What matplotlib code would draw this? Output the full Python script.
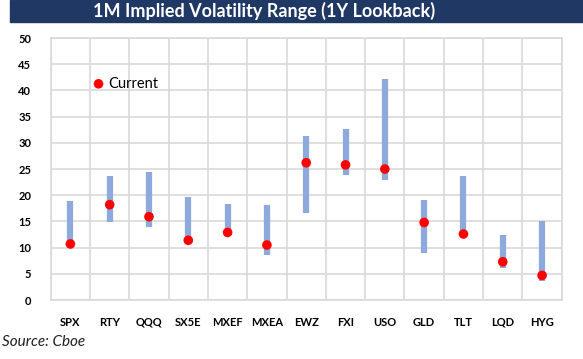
import matplotlib.pyplot as plt
from matplotlib.patches import Rectangle

# data
tickers = ['SPX', 'RTY', 'QQQ', 'SX5E', 'MXEF', 'MXEA', 'EWZ', 'FXI',
           'USO', 'GLD', 'TLT', 'LQD', 'HYG']
low = [10.5, 14.8, 14.0, 11.2, 12.6, 8.6, 16.7, 23.9, 23.0, 9.0, 12.3, 6.2, 3.7]
high = [18.9, 23.7, 24.4, 19.7, 18.4, 18.2, 31.4, 32.6, 42.2, 19.0, 23.7, 12.5, 15.1]
current = [10.7, 18.2, 15.9, 11.4, 12.9, 10.5, 26.2, 25.8, 25.0, 14.8, 12.6, 7.3, 4.7]

plt.rcParams['font.family'] = ['Lato', 'DejaVu Sans']

fig = plt.figure(figsize=(5.83, 3.59), dpi=100)
ax = fig.add_axes([0.087, 0.1643, 0.8765, 0.7297])

x = list(range(len(tickers)))
ax.vlines(x, low, high, color='#8EA9DB', linewidth=4.5, zorder=2)
ax.scatter(x, current, s=48, color='#FF0000', zorder=3, label='Current',
           edgecolors='none')

ax.set_xlim(-0.5, len(tickers) - 0.5)
ax.set_ylim(0, 50)
ax.set_yticks(range(0, 51, 5))
ax.set_xticks(x)
ax.set_xticklabels(tickers)
ax.set_xticks([i + 0.5 for i in range(-1, len(tickers))], minor=True)
ax.grid(axis='y', which='major', color='#D9D9D9', linewidth=1.2)
ax.grid(axis='x', which='minor', color='#D9D9D9', linewidth=1.2)
ax.set_axisbelow(True)
for s in ax.spines.values():
    s.set_color('#D9D9D9')
    s.set_linewidth(1.2)
ax.tick_params(which='both', length=0)
ax.tick_params(axis='x', pad=12)
ax.tick_params(axis='y', pad=14)
for lab in ax.get_xticklabels() + ax.get_yticklabels():
    lab.set_fontweight('bold')
    lab.set_fontsize(8)

ax.legend(loc='upper left', bbox_to_anchor=(0.065, 0.875), frameon=False,
          handletextpad=0.1, fontsize=10.5, borderaxespad=0, handlelength=1.2)

# title banner
fig.patches.append(Rectangle((10 / 583, 1 - 22 / 359), 1, 22 / 359,
                             transform=fig.transFigure, color='#1F3864',
                             zorder=0))
fig.text(264 / 583, 1 - 11 / 359, '1M Implied Volatility Range (1Y Lookback)',
         color='white', fontsize=13, fontweight='bold', ha='center',
         va='center')
fig.text(2 / 583, 1 - 342 / 359, 'Source: Cboe', fontsize=11, style='italic',
         color='#1F1F1F', ha='left', va='center')

fig.savefig('out.png', dpi=100)
